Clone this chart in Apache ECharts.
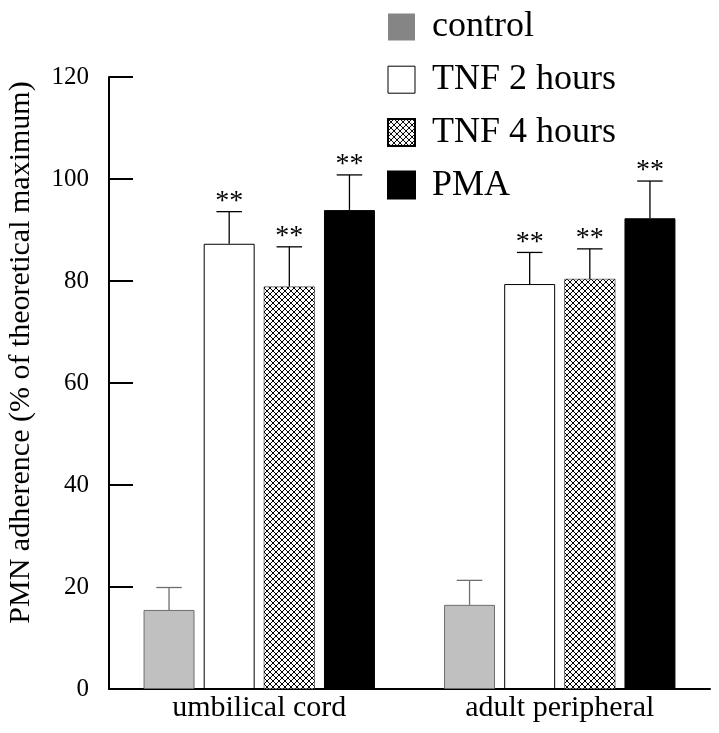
<!DOCTYPE html>
<html><head><meta charset="utf-8">
<script src="https://cdn.jsdelivr.net/npm/echarts@6/dist/echarts.min.js"></script>
<style>html,body{margin:0;padding:0;background:#fff}#c{width:719px;height:733px}</style>
</head><body><div id="c"></div>
<script>
const categories = ['umbilical cord', 'adult peripheral'];
const seriesNames = ['control', 'TNF 2 hours', 'TNF 4 hours', 'PMA'];
const control = [15.5, 16.5];
const controlErr = [4.4, 4.8];
const tnf2 = [87.3, 79.4];
const tnf2Err = [6.3, 6.2];
const tnf4 = [78.9, 80.4];
const tnf4Err = [7.8, 5.9];
const pma = [93.9, 92.3];
const pmaErr = [6.9, 7.3];
const significant = [false, true, true, true];
const yTicks = [0, 20, 40, 60, 80, 100, 120];
const yTitle = 'PMN adherence (% of theoretical maximum)';

const FONT = '"Liberation Serif", "Times New Roman", serif';

function hatch() {
  const s = 6;
  const cv = document.createElement('canvas');
  cv.width = s; cv.height = s;
  const ctx = cv.getContext('2d');
  ctx.fillStyle = '#fff'; ctx.fillRect(0, 0, s, s);
  ctx.strokeStyle = '#000'; ctx.lineWidth = 1;
  ctx.beginPath();
  ctx.moveTo(0, 0); ctx.lineTo(s, s);
  ctx.moveTo(s, 0); ctx.lineTo(0, s);
  ctx.stroke();
  return cv;
}

const values = [control, tnf2, tnf4, pma];
const errs = [controlErr, tnf2Err, tnf4Err, pmaErr];
const styles = [
  { color: '#c0c0c0', borderColor: '#6e6e6e', borderWidth: 1 },
  { color: '#ffffff', borderColor: '#000', borderWidth: 1 },
  { color: { image: hatch(), repeat: 'repeat' }, borderColor: '#000', borderWidth: 0.5 },
  { color: '#000000', borderColor: '#000', borderWidth: 1 }
];

const CAT_GAP = 0.23, BAR_GAP = 0.18;

const barSeries = seriesNames.map((n, i) => ({
  name: n, type: 'bar', data: values[i],
  barCategoryGap: (CAT_GAP * 100) + '%', barGap: (BAR_GAP * 100) + '%',
  itemStyle: styles[i], emphasis: { disabled: true }, z: 2
}));

const errData = [];
values.forEach((v, s) => v.forEach((val, c) => errData.push([c, s, val, errs[s][c], significant[s] ? 1 : 0])));

const errSeries = {
  type: 'custom', name: 'err', z: 5, silent: true,
  data: errData,
  encode: { x: 0, y: 2 },
  renderItem: function (params, api) {
    const c = api.value(0), s = api.value(1), v = api.value(2), e = api.value(3), star = api.value(4);
    const band = api.size([1, 0])[0];
    const w = band * (1 - CAT_GAP) / (4 + 3 * BAR_GAP);
    const center = api.coord([c, v]);
    const x = center[0] + (s - 1.5) * w * (1 + BAR_GAP);
    const y0 = center[1];
    const y1 = api.coord([c, v + e])[1];
    const col = s === 0 ? '#6e6e6e' : '#000';
    const children = [
      { type: 'line', shape: { x1: x, y1: y0, x2: x, y2: y1 }, style: { stroke: col, lineWidth: 1.3 } },
      { type: 'line', shape: { x1: x - w / 4, y1: y1, x2: x + w / 4, y2: y1 }, style: { stroke: col, lineWidth: 1.3 } }
    ];
    if (star) {
      children.push({ type: 'text', x: x, y: y1 + 4,
        style: { text: '**', font: '28px ' + FONT, fill: '#000', align: 'center', verticalAlign: 'bottom' } });
    }
    return { type: 'group', children: children };
  }
};

const chart = echarts.init(document.getElementById('c'), null, { renderer: 'canvas' });
chart.setOption({
  animation: false,
  backgroundColor: '#fff',
  textStyle: { fontFamily: FONT },
  grid: { left: 109, right: 9, top: 77, bottom: 44, containLabel: false },
  graphic: [{
    type: 'text', x: 21, y: 352.5, rotation: Math.PI / 2, silent: true,
    style: { text: yTitle, font: '30px ' + FONT, fill: '#000', align: 'center', verticalAlign: 'middle' }
  }],
  legend: {
    orient: 'vertical', left: 387, top: 7, padding: 0,
    itemWidth: 27, itemHeight: 27, itemGap: 12.7,
    icon: 'rect', selectedMode: false,
    textStyle: { fontFamily: FONT, fontSize: 36, color: '#000', lineHeight: 40, padding: [0, 0, 0, 12] },
    data: [
      { name: 'control', itemStyle: { color: '#858585', borderWidth: 0 } },
      { name: 'TNF 2 hours', itemStyle: { color: '#fff', borderColor: '#000', borderWidth: 1 } },
      { name: 'TNF 4 hours' },
      { name: 'PMA' }
    ]
  },
  xAxis: {
    type: 'category', data: categories,
    axisLine: { lineStyle: { color: '#000', width: 2 } },
    axisTick: { show: false },
    axisLabel: { color: '#000', fontSize: 30, fontFamily: FONT, margin: 4 }
  },
  yAxis: {
    type: 'value', min: yTicks[0], max: yTicks[yTicks.length - 1], interval: 20,
    axisLine: { show: true, lineStyle: { color: '#000', width: 2 } },
    axisTick: { show: true, inside: true, length: 24, lineStyle: { color: '#000', width: 2 } },
    axisLabel: { color: '#000', fontSize: 25, fontFamily: FONT, margin: 20 },
    splitLine: { show: false }
  },
  series: barSeries.concat([errSeries])
});
</script></body></html>
